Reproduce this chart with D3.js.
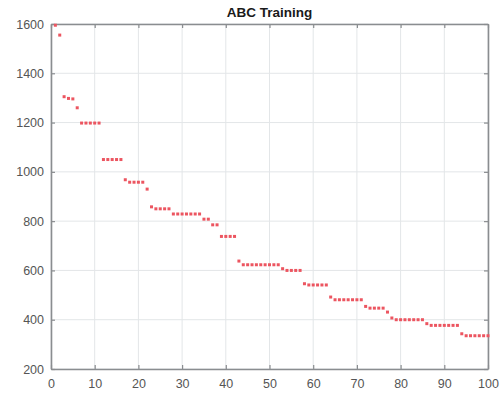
<!DOCTYPE html>
<html>
<head>
<meta charset="utf-8">
<script src="https://cdn.jsdelivr.net/npm/d3@7"></script>
<style>
  body { margin: 0; background: #fff; }
  #chart text { font-family: "Liberation Sans", Arial, sans-serif; }
</style>
</head>
<body>
<div id="chart"></div>
<script>
// best cost per iteration
let iterations = d3.range(1, 101);
let bestCost = [
  1595, 1555, 1305, 1298, 1296, 1260, 1198, 1198, 1198, 1198,
  1198, 1050, 1050, 1050, 1050, 1050, 968, 958, 958, 958,
  958, 930, 858, 850, 850, 850, 850, 829, 829, 829,
  829, 829, 829, 829, 808, 808, 785, 785, 738, 738,
  738, 738, 638, 623, 623, 623, 623, 623, 623, 623,
  623, 623, 607, 600, 600, 600, 600, 546, 541, 541,
  541, 541, 541, 492, 481, 481, 481, 481, 481, 481,
  481, 454, 447, 447, 447, 447, 431, 407, 400, 400,
  400, 400, 400, 400, 400, 384, 377, 377, 377, 377,
  377, 377, 377, 343, 335, 335, 335, 335, 335, 335
];
let xTicks = [0, 10, 20, 30, 40, 50, 60, 70, 80, 90, 100];
let yTicks = [200, 400, 600, 800, 1000, 1200, 1400, 1600];
let title = "ABC Training";

let margin = { top: 24, right: 13, bottom: 26, left: 51 },
    width = 501 - margin.left - margin.right,
    height = 395 - margin.top - margin.bottom;

let svg = d3.select("#chart")
    .append("svg")
    .attr("width", 501)
    .attr("height", 395)
    .append("g")
    .attr("transform", "translate(" + margin.left + "," + margin.top + ")");

let x = d3.scaleLinear().domain([0, 100]).range([0, width]);
let y = d3.scaleLinear().domain([200, 1600]).range([height, 0]);

// grid
svg.append("g")
    .selectAll("line.vg")
    .data(xTicks)
    .enter()
    .append("line")
    .attr("x1", d => x(d)).attr("x2", d => x(d))
    .attr("y1", 0).attr("y2", height)
    .attr("stroke", "#e3e6e8");
svg.append("g")
    .selectAll("line.hg")
    .data(yTicks)
    .enter()
    .append("line")
    .attr("x1", 0).attr("x2", width)
    .attr("y1", d => y(d)).attr("y2", d => y(d))
    .attr("stroke", "#e3e6e8");

// axes (ticks pointing inward, box on)
function styleAxis(g) {
    g.select(".domain").attr("stroke", "#8a8d90").attr("stroke-width", 1.6);
    g.selectAll(".tick line").attr("stroke", "#8a8d90").attr("stroke-width", 1.2);
    g.selectAll(".tick text").attr("fill", "#555").style("font-size", "12.5px");
}

let fmt = d3.format("d");

svg.append("g")
    .attr("transform", "translate(0," + height + ")")
    .call(d3.axisBottom(x).tickValues(xTicks).tickFormat(fmt).tickSizeInner(-4).tickSizeOuter(0).tickPadding(10))
    .call(styleAxis);
svg.append("g")
    .call(d3.axisTop(x).tickValues(xTicks).tickSizeInner(-4).tickSizeOuter(0).tickFormat(""))
    .call(styleAxis);
svg.append("g")
    .call(d3.axisLeft(y).tickValues(yTicks).tickFormat(fmt).tickSizeInner(-4).tickSizeOuter(0).tickPadding(7))
    .call(styleAxis);
svg.append("g")
    .attr("transform", "translate(" + width + ",0)")
    .call(d3.axisRight(y).tickValues(yTicks).tickSizeInner(-4).tickSizeOuter(0).tickFormat(""))
    .call(styleAxis);

// markers
svg.selectAll("myPoints")
    .data(iterations)
    .enter()
    .append("rect")
    .attr("x", (d, i) => x(d) - 1.5)
    .attr("y", (d, i) => y(bestCost[i]) - 1.5)
    .attr("width", 3)
    .attr("height", 3)
    .attr("fill", "#ec5560")
    .attr("stroke", "none");

// title
svg.append("text")
    .attr("x", width / 2)
    .attr("y", -7)
    .attr("text-anchor", "middle")
    .attr("fill", "#1a1a1a")
    .style("font-size", "13.5px")
    .style("font-weight", "bold")
    .text(title);
</script>
</body>
</html>
